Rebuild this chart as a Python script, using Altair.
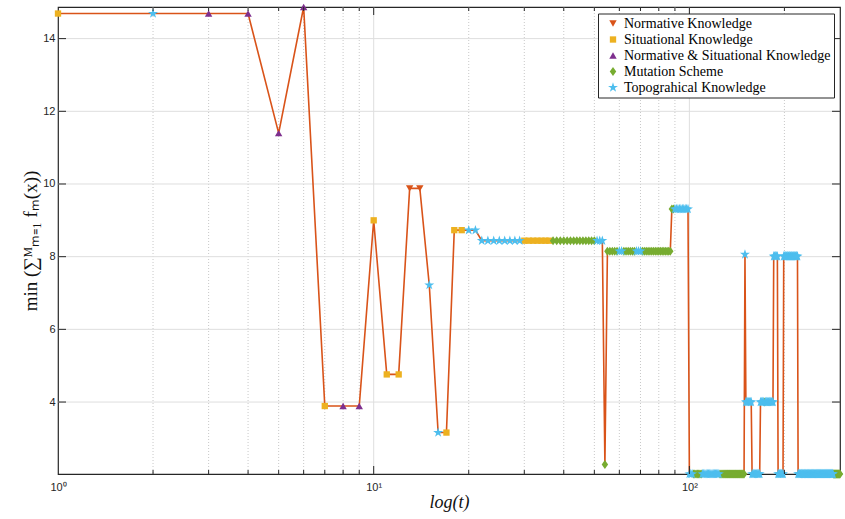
import altair as alt
import pandas as pd

# ---------------- data ----------------
kinds = ["Normative Knowledge", "Situational Knowledge",
         "Normative & Situational Knowledge", "Mutation Scheme",
         "Topograhical Knowledge"]
kind_colors = ["#D95319", "#EDB120", "#7E2F8E", "#77AC30", "#4DBEEE"]

# runs of consecutive iterations t (start, end inclusive), value, strategy index
seg_start = [1, 2, 3, 5, 6, 7, 8, 10, 11, 13, 15, 16, 17, 18, 20, 22, 30, 37, 51, 54,
             55, 60, 62, 68, 71, 88, 90, 100, 103, 110, 125, 150, 151, 158, 168, 173,
             174, 185, 191, 199, 221, 286]
seg_end = [1, 2, 4, 5, 6, 7, 9, 10, 12, 14, 15, 16, 17, 19, 21, 29, 36, 50, 53, 54,
           59, 61, 67, 70, 87, 89, 99, 102, 109, 124, 149, 150, 157, 167, 172, 173,
           184, 190, 198, 220, 285, 300]
seg_value = [14.69, 14.69, 14.69, 11.40, 14.87, 3.89, 3.89, 9.00, 4.76, 9.88, 7.22, 3.16,
             3.16, 8.73, 8.73, 8.44, 8.44, 8.44, 8.44, 2.28, 8.15, 8.15, 8.15, 8.15,
             8.15, 9.31, 9.31, 2.02, 2.02, 2.02, 2.02, 8.06, 4.00, 2.02, 4.00, 4.00,
             4.00, 8.01, 2.02, 8.01, 2.02, 2.02]
seg_kind = [1, 4, 2, 2, 2, 1, 2, 1, 1, 0, 4, 4, 1, 1, 4, 4, 1, 3, 4, 3,
            3, 4, 3, 4, 3, 3, 4, 4, 3, 4, 3, 4, 4, 4, 4, 3,
            4, 4, 4, 4, 4, 3]

y_tick_values = [4, 6, 8, 10, 12, 14]
x_label_values = [1, 10, 100]
x_major_grid = [10, 100]
x_minor_grid = [2, 3, 4, 5, 6, 7, 8, 9, 20, 30, 40, 50, 60, 70, 80, 90, 200]

rows = []
for s, e, v, k in zip(seg_start, seg_end, seg_value, seg_kind):
    for t in range(s, e + 1):
        rows.append({"t": t, "f": v, "kind": kinds[k], "ord": k})
df = pd.DataFrame(rows)
df_pts = df.sort_values(["ord", "t"], kind="stable")

# ---------------- styling ----------------
W, H = 782, 467
STAR = ("M0,-1L0.2245,-0.309L0.951,-0.309L0.363,0.118L0.588,0.809L0,0.382"
        "L-0.588,0.809L-0.363,0.118L-0.951,-0.309L-0.2245,-0.309Z")
DIAMOND = "M0,-1L0.72,0L0,1L-0.72,0Z"
kind_shapes = ["triangle-down", "square", "triangle-up", DIAMOND, STAR]
kind_sizes = [55, 40, 55, 80, 110]
AX = "#262626"

xscale = alt.Scale(type="log", domain=[1, 300], nice=False)
yscale = alt.Scale(domain=[2.02, 14.87], nice=False, zero=False)

xaxis = alt.Axis(values=x_label_values, grid=False, ticks=False, tickSize=0, domain=False,
                 labelExpr="datum.value == 1 ? '10⁰' : (datum.value == 10 ? '10¹' : '10²')",
                 labelFont="Liberation Sans", labelFontSize=11, labelColor=AX,
                 labelPadding=7, labelFlush=False, labelOverlap=False,
                 title="log(t)", titleFont="Liberation Serif", titleFontStyle="italic",
                 titleFontWeight="normal", titleFontSize=18, titleColor="#111111",
                 titleX=W / 2, titleY=33, titleAlign="center", titleBaseline="alphabetic")
yaxis = alt.Axis(values=y_tick_values, grid=False, ticks=False, tickSize=0, domain=False,
                 labelFont="Liberation Sans", labelFontSize=11, labelColor=AX,
                 labelPadding=3, labelFlush=False, labelOverlap=False,
                 title="min (∑ᴹₘ₌₁ fₘ(x))", titleFont="Liberation Serif",
                 titleFontWeight="normal", titleFontSize=19, titleColor="#111111",
                 titleAngle=270, titleX=-28, titleY=H / 2, titleAlign="center",
                 titleBaseline="middle")


def X(field):
    return alt.X(field, scale=xscale, axis=xaxis)


def Y(field):
    return alt.Y(field, scale=yscale, axis=yaxis)


ygrid = alt.Chart(pd.DataFrame({"v": y_tick_values})).mark_rule(
    color="#dedede", strokeWidth=1).encode(y=Y("v:Q"))
xgrid_major = alt.Chart(pd.DataFrame({"v": x_major_grid})).mark_rule(
    color="#dedede", strokeWidth=1).encode(x=X("v:Q"))
xgrid_minor = alt.Chart(pd.DataFrame({"v": x_minor_grid})).mark_rule(
    color="#c8c8c8", strokeWidth=1, strokeDash=[1, 2]).encode(x=X("v:Q"))

line = alt.Chart(df).mark_line(color="#D95319", strokeWidth=1.6).encode(
    x=X("t:Q"), y=Y("f:Q"))

legend = alt.Legend(title=None, orient="none", legendX=540, legendY=6.5,
                    fillColor="white", strokeColor=AX, padding=3,
                    labelFont="Liberation Serif", labelFontSize=14.0, labelColor="black",
                    labelLimit=400, rowPadding=2.0, labelOffset=4, symbolSize=45,
                    symbolOffset=5, symbolStrokeWidth=0)

pts = alt.Chart(df_pts).mark_point(filled=True, opacity=1, strokeWidth=0).encode(
    x=X("t:Q"), y=Y("f:Q"),
    color=alt.Color("kind:N", scale=alt.Scale(domain=kinds, range=kind_colors), legend=legend),
    shape=alt.Shape("kind:N", scale=alt.Scale(domain=kinds, range=kind_shapes), legend=legend),
    size=alt.Size("kind:N", scale=alt.Scale(type="ordinal", domain=kinds, range=kind_sizes),
                  legend=None),
    order=alt.Order("ord:Q"),
)

tick_y = pd.DataFrame({"v": y_tick_values})
yt_left = alt.Chart(tick_y).mark_rule(color=AX, strokeWidth=1).encode(
    y=Y("v:Q"), x=alt.value(0), x2=alt.value(8))
yt_right = alt.Chart(tick_y).mark_rule(color=AX, strokeWidth=1).encode(
    y=Y("v:Q"), x=alt.value(W - 8), x2=alt.value(W))
tick_xM = pd.DataFrame({"v": x_major_grid})
tick_xm = pd.DataFrame({"v": x_minor_grid})
xt_bot_M = alt.Chart(tick_xM).mark_rule(color=AX, strokeWidth=1).encode(
    x=X("v:Q"), y=alt.value(H - 8), y2=alt.value(H))
xt_top_M = alt.Chart(tick_xM).mark_rule(color=AX, strokeWidth=1).encode(
    x=X("v:Q"), y=alt.value(0), y2=alt.value(8))
xt_bot_m = alt.Chart(tick_xm).mark_rule(color=AX, strokeWidth=1).encode(
    x=X("v:Q"), y=alt.value(H - 4), y2=alt.value(H))
xt_top_m = alt.Chart(tick_xm).mark_rule(color=AX, strokeWidth=1).encode(
    x=X("v:Q"), y=alt.value(0), y2=alt.value(4))

chart = alt.layer(
    xgrid_minor, xgrid_major, ygrid, line, pts,
    yt_left, yt_right, xt_bot_M, xt_top_M, xt_bot_m, xt_top_m,
).properties(
    width=W, height=H,
    autosize=alt.AutoSizeParams(type="none"),
    padding={"left": 58, "top": 7, "right": 5, "bottom": 45},
    background="white",
).configure_view(stroke=AX, strokeWidth=1.2)

chart.save("out.html", embed_options={"renderer": "svg", "actions": False})
